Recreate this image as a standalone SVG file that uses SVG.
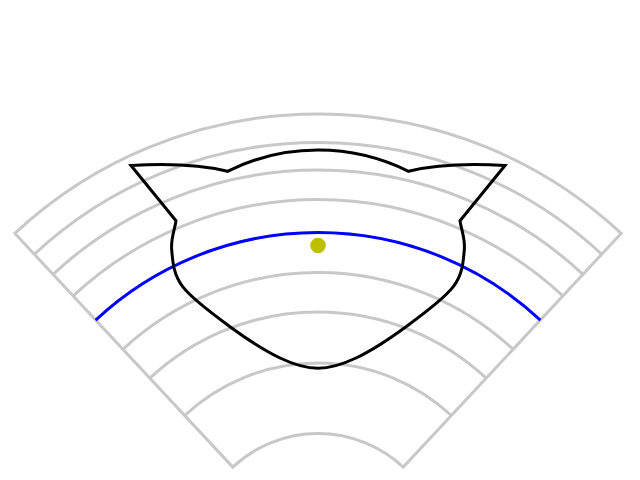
<svg xmlns="http://www.w3.org/2000/svg" width="640" height="480" viewBox="0 0 640 480">
  <style>
    .grid { fill: none; stroke: #c8c8c8; stroke-width: 3; }
    .blue { fill: none; stroke: #0000ff; stroke-width: 3; }
    .cat { fill: none; stroke: #000000; stroke-width: 3; stroke-linejoin: miter; }
  </style>
  <rect width="640" height="480" fill="#ffffff"/>
  <g id="grid">
    <path class="grid" d="M14.85,233.41 A444.5,444.5 0 0 1 621.15,233.41 L403.25,467.08 A125,125 0 0 0 232.75,467.08 Z"/>
    <path class="grid" d="M34.29,254.26 A416,416 0 0 1 601.71,254.26"/>
    <path class="grid" d="M53.04,274.37 A388.5,388.5 0 0 1 582.96,274.37"/>
    <path class="grid" d="M73.16,295.95 A359,359 0 0 1 562.84,295.95"/>
    <path class="grid" d="M122.95,349.33 A286,286 0 0 1 513.05,349.33"/>
    <path class="grid" d="M149.89,378.22 A246.5,246.5 0 0 1 486.11,378.22"/>
    <path class="grid" d="M184.67,415.52 A195.5,195.5 0 0 1 451.33,415.52"/>
  </g>
  <g id="blue-arc">
    <path class="blue" d="M95.67,320.08 A326,326 0 0 1 540.33,320.08"/>
  </g>
  <g id="cat">
    <path class="cat" d="M131,165.5 Q190,162 227.5,171.3 A203,203 0 0 1 408.5,171.3 Q446,162 505,165.5 L460,220.7 C461.43,230.47 465.42,239 464.3,250 C463.18,261 463.02,273.92 453.3,286.7 C443.58,299.48 422.22,314.82 406,326.7 C389.78,338.58 370.67,351.07 356,358 C341.33,364.93 330.67,368.3 318,368.3 C305.33,368.3 294.67,364.93 280,358 C265.33,351.07 246.22,338.58 230,326.7 C213.78,314.82 192.42,299.48 182.7,286.7 C172.98,273.92 172.82,261 171.7,250 C170.58,239 174.57,230.47 176,220.7 Z"/>
  </g>
  <g id="dot">
    <circle cx="318" cy="245.5" r="7.8" fill="#bfbf00"/>
  </g>
</svg>
